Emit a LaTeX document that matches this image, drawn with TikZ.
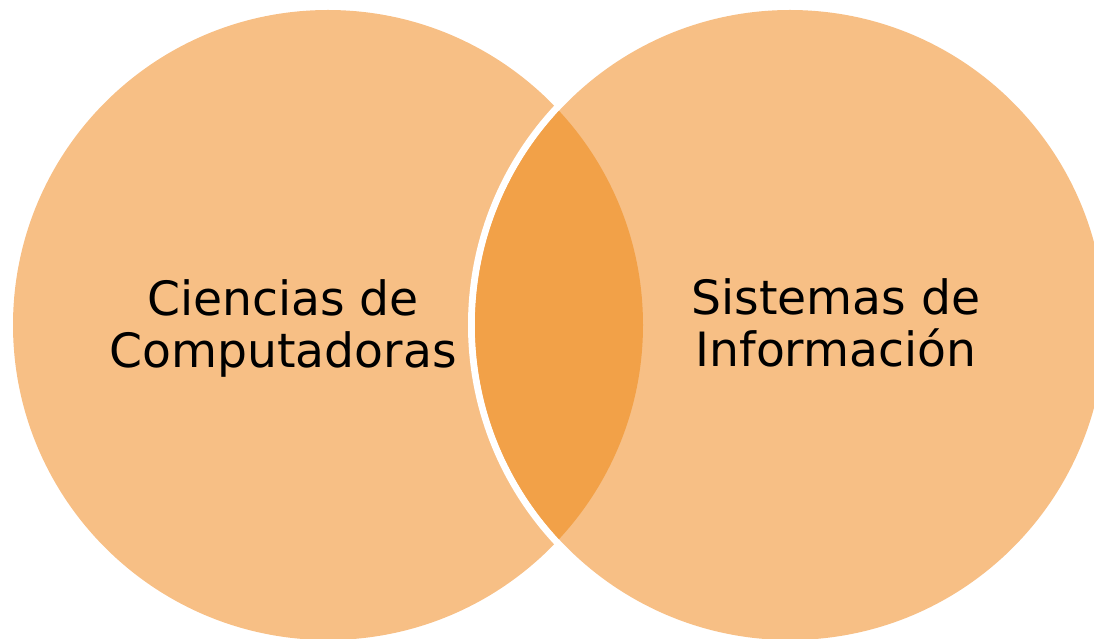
\documentclass[tikz,border=0pt]{standalone}
\usepackage{fontspec}
\setmainfont{DejaVu Sans}
\definecolor{peach}{HTML}{F7BF85}
\definecolor{deeporange}{HTML}{F2A148}
\tikzset{
  setfill/.style={fill=peach},
  lensfill/.style={fill=deeporange},
  setlabel/.style={align=center, font=\fontsize{33.6}{37}\selectfont, inner sep=0pt}
}

\begin{document}
\begin{tikzpicture}[x=0.025cm, y=0.025cm]
\useasboundingbox (0,0) rectangle (1094,639);
\coordinate (cc) at (328,314);
\coordinate (si) at (790,314);
\fill[setfill] (cc) circle (315);
\draw[white, line width=4.98pt] (si) circle (318.5);
\fill[setfill] (si) circle (315);
\begin{scope}
\clip (cc) circle (315);
\fill[lensfill] (si) circle (315);
\end{scope}
\node[setlabel] (ccl) at (283,311) {Ciencias de\\Computadoras};
\node[setlabel] (sil) at (836,316) {Sistemas de\\Información};
\end{tikzpicture}
\end{document}
